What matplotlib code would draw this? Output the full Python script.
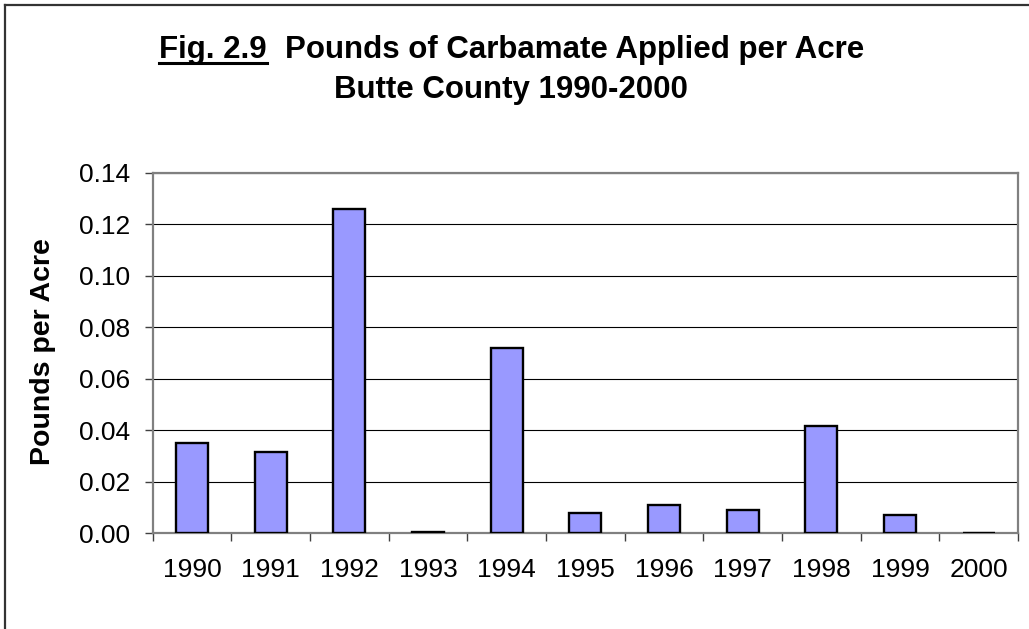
import numpy as np
import matplotlib
matplotlib.use("Agg")
import matplotlib.pyplot as plt
from matplotlib.lines import Line2D

# data
years = ["1990", "1991", "1992", "1993", "1994", "1995",
         "1996", "1997", "1998", "1999", "2000"]
pounds_per_acre = [0.0352, 0.0317, 0.126, 0.0005, 0.0721, 0.0079,
                   0.0111, 0.0092, 0.0418, 0.0071, 0.0]
y_ticks = [0.00, 0.02, 0.04, 0.06, 0.08, 0.10, 0.12, 0.14]

plt.rcParams['font.family'] = ['Liberation Sans', 'DejaVu Sans']

W, H = 1029, 629
fig = plt.figure(figsize=(W / 100, H / 100), dpi=100)
ax = fig.add_axes([152.7 / W, 1 - 533.3 / H, (1018 - 152.7) / W, (533.3 - 172.7) / H])

X = np.arange(len(years))
ax.bar(X, pounds_per_acre, width=0.41, color='#9999FF', edgecolor='black',
       linewidth=1.7, zorder=3)

ax.set_xlim(-0.5, len(years) - 0.5)
ax.set_ylim(0, 0.14)
ax.set_yticks(y_ticks)
ax.set_yticklabels(["%.2f" % v for v in y_ticks])
ax.yaxis.grid(True, color='black', linewidth=0.8)
ax.set_axisbelow(True)

# category boundaries get the ticks, centers get the labels
ax.set_xticks(np.arange(len(years) + 1) - 0.5)
ax.set_xticklabels([])
ax.set_xticks(X, minor=True)
ax.set_xticklabels(years, minor=True)
ax.tick_params(axis='x', which='major', direction='out', length=6, width=1, color='#404040')
ax.tick_params(axis='x', which='minor', length=0, pad=18, labelsize=19)
ax.tick_params(axis='y', direction='out', length=6, width=1, color='#404040',
               pad=10, labelsize=19)

for s in ['top', 'right', 'bottom', 'left']:
    ax.spines[s].set_color('#808080')
    ax.spines[s].set_linewidth(1.6)

fig.text(43 / W, 1 - 352 / H, "Pounds per Acre", rotation=90, fontsize=20.5,
         fontweight='bold', ha='center', va='center')

# title with underlined "Fig. 2.9"
fig.canvas.draw()
r = fig.canvas.get_renderer()
tkw = dict(fontsize=22.5, fontweight='bold', va='baseline')
base1 = 1 - 58 / H
ta = fig.text(0, base1, "Fig. 2.9", ha='left', **tkw)
tb = fig.text(0, base1, "Pounds of Carbamate Applied per Acre", ha='left', **tkw)
wa = ta.get_window_extent(r).width
wb = tb.get_window_extent(r).width
gap = 18
left = 159
ta.set_x(left / W)
tb.set_x((left + wa + gap) / W)
center = left + (wa + gap + wb) / 2
fig.text(center / W, 1 - 98 / H, "Butte County 1990-2000", ha='center', **tkw)
fig.add_artist(Line2D([left / W, (left + wa) / W], [1 - 63 / H] * 2,
                      transform=fig.transFigure, color='black', linewidth=2.2))

# chart frame (only left and top edges visible)
fig.add_artist(Line2D([5 / W, 5 / W], [0, 1 - 5 / H], transform=fig.transFigure,
                      color='#333333', linewidth=1.6))
fig.add_artist(Line2D([5 / W, 1], [1 - 5 / H] * 2, transform=fig.transFigure,
                      color='#333333', linewidth=1.6))

plt.savefig('out.png', dpi=100)
